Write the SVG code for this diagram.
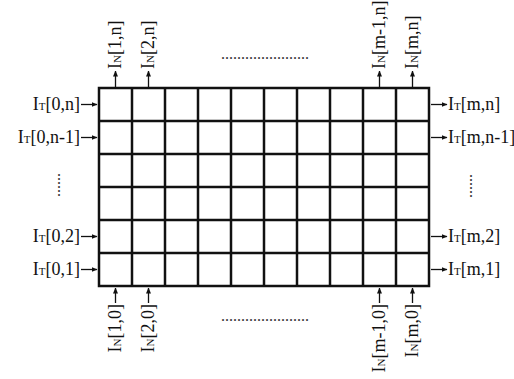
<svg xmlns="http://www.w3.org/2000/svg" width="514" height="379" viewBox="0 0 514 379">
<defs>
<marker id="ah" viewBox="0 0 6 6" refX="5.5" refY="3" markerWidth="6" markerHeight="6" markerUnits="userSpaceOnUse" orient="auto">
<path d="M0,0.5 L6,3 L0,5.5 Z" fill="#111"/>
</marker>
</defs>
<style>
.lbl{font-family:"Liberation Serif","Times New Roman",serif;font-size:18px;fill:#111}
.sub{font-size:11px}
.dots{font-family:"Liberation Serif",serif;font-size:16px;fill:#333}
.grid line,.grid rect{stroke:#111;stroke-width:2.5;fill:none}
.arr{stroke:#111;stroke-width:1.3;fill:none;marker-end:url(#ah)}
</style>
<rect width="514" height="379" fill="#fff"/>
<g id="grid" class="grid">
<rect x="99" y="88" width="330" height="198"/>
<line x1="132" y1="88" x2="132" y2="286"/>
<line x1="165" y1="88" x2="165" y2="286"/>
<line x1="198" y1="88" x2="198" y2="286"/>
<line x1="231" y1="88" x2="231" y2="286"/>
<line x1="264" y1="88" x2="264" y2="286"/>
<line x1="297" y1="88" x2="297" y2="286"/>
<line x1="330" y1="88" x2="330" y2="286"/>
<line x1="363" y1="88" x2="363" y2="286"/>
<line x1="396" y1="88" x2="396" y2="286"/>
<line x1="99" y1="121" x2="429" y2="121"/>
<line x1="99" y1="154" x2="429" y2="154"/>
<line x1="99" y1="187" x2="429" y2="187"/>
<line x1="99" y1="220" x2="429" y2="220"/>
<line x1="99" y1="253" x2="429" y2="253"/>
</g>
<g id="connectors" class="arr">
<line x1="81" y1="104.5" x2="97" y2="104.5"/>
<line x1="81" y1="137.5" x2="97" y2="137.5"/>
<line x1="81" y1="236.5" x2="97" y2="236.5"/>
<line x1="81" y1="269.5" x2="97" y2="269.5"/>
<line x1="431" y1="104.5" x2="447" y2="104.5"/>
<line x1="431" y1="137.5" x2="447" y2="137.5"/>
<line x1="431" y1="236.5" x2="447" y2="236.5"/>
<line x1="431" y1="269.5" x2="447" y2="269.5"/>
<line x1="115.5" y1="87" x2="115.5" y2="71"/>
<line x1="148.5" y1="87" x2="148.5" y2="71"/>
<line x1="379.5" y1="87" x2="379.5" y2="71"/>
<line x1="412.5" y1="87" x2="412.5" y2="71"/>
<line x1="115.5" y1="303" x2="115.5" y2="288"/>
<line x1="148.5" y1="303" x2="148.5" y2="288"/>
<line x1="379.5" y1="303" x2="379.5" y2="288"/>
<line x1="412.5" y1="303" x2="412.5" y2="288"/>
</g>
<g id="left-labels" class="lbl" text-anchor="end">
<text x="80" y="110">I<tspan class="sub">T</tspan>[0,n]</text>
<text x="80" y="143">I<tspan class="sub">T</tspan>[0,n-1]</text>
<text x="80" y="242">I<tspan class="sub">T</tspan>[0,2]</text>
<text x="80" y="275">I<tspan class="sub">T</tspan>[0,1]</text>
</g>
<g id="right-labels" class="lbl">
<text x="448" y="110">I<tspan class="sub">T</tspan>[m,n]</text>
<text x="448" y="143">I<tspan class="sub">T</tspan>[m,n-1]</text>
<text x="448" y="242">I<tspan class="sub">T</tspan>[m,2]</text>
<text x="448" y="275">I<tspan class="sub">T</tspan>[m,1]</text>
</g>
<g id="top-labels" class="lbl">
<text transform="translate(121,69) rotate(-90)">I<tspan class="sub">N</tspan>[1,n]</text>
<text transform="translate(154,69) rotate(-90)">I<tspan class="sub">N</tspan>[2,n]</text>
<text transform="translate(385,69) rotate(-90)">I<tspan class="sub">N</tspan>[m-1,n]</text>
<text transform="translate(418,69) rotate(-90)">I<tspan class="sub">N</tspan>[m,n]</text>
</g>
<g id="bottom-labels" class="lbl" text-anchor="end">
<text transform="translate(121,304) rotate(-90)">I<tspan class="sub">N</tspan>[1,0]</text>
<text transform="translate(154,304) rotate(-90)">I<tspan class="sub">N</tspan>[2,0]</text>
<text transform="translate(385,304) rotate(-90)">I<tspan class="sub">N</tspan>[m-1,0]</text>
<text transform="translate(418,304) rotate(-90)">I<tspan class="sub">N</tspan>[m,0]</text>
</g>
<g id="ellipses" class="dots" text-anchor="middle">
<text x="265" y="59">......................</text>
<text x="265" y="321">......................</text>
<text transform="translate(58,185) rotate(90)">......</text>
<text transform="translate(470,186) rotate(90)">......</text>
</g>
</svg>
